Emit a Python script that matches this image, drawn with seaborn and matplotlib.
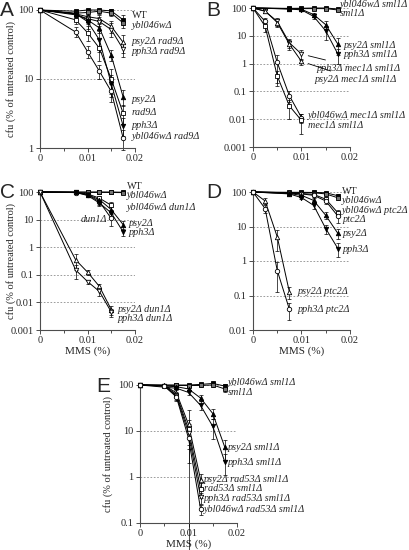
import numpy as np
import matplotlib
matplotlib.use("Agg")
import matplotlib.pyplot as plt
import seaborn as sns
import pandas as pd

# MMS doses (%)
dose6 = [0, 0.0075, 0.01, 0.0125, 0.015, 0.0175]
dose5 = [0, 0.0075, 0.01, 0.0125, 0.015]
dose_fast = [0, 0.0025, 0.005, 0.0075, 0.01]
dose_ptc = [0, 0.0025, 0.005, 0.0075]
dose_rad53 = [0, 0.005, 0.0075, 0.01, 0.0125]

# ---- panel A
a_names = ["WT", "ybl046wΔ", "psy2Δ rad9Δ", "pph3Δ rad9Δ", "psy2Δ", "rad9Δ", "pph3Δ", "ybl046wΔ rad9Δ"]
a_dose = [dose6] * 8
a_cfu = [[100, 96, 100, 100, 97, 72],
         [100, 90, 92, 96, 90, 65],
         [100, 88, 80, 75, 58, 34],
         [100, 85, 75, 68, 52, 27],
         [100, 88, 72, 55, 22, 5.5],
         [100, 72, 47, 28, 10, 3.2],
         [100, 88, 68, 37, 8.5, 2.1],
         [100, 48, 25, 13, 6.6, 1.4]]
a_err = [[0, 5, 5, 5, 8, 12],
         [0, 8, 8, 8, 8, 10],
         [0, 8, 10, 10, 12, 10],
         [0, 8, 10, 10, 12, 6],
         [0, 8, 10, 8, 4, 1.5],
         [0, 10, 12, 10, 4, 1.0],
         [0, 8, 15, 12, 3, 0.6],
         [0, 8, 5, 3, 2, 0.45]]

# ---- panel B
b_names = ["ybl046wΔ sml1Δ", "sml1Δ", "psy2Δ sml1Δ", "pph3Δ sml1Δ",
           "pph3Δ mec1Δ sml1Δ", "psy2Δ mec1Δ sml1Δ", "ybl046wΔ mec1Δ sml1Δ", "mec1Δ sml1Δ"]
b_dose = [dose6, dose6, dose6, dose6, dose_fast, dose_fast, dose_fast, dose_fast]
b_cfu = [[100, 97, 98, 100, 100, 92],
         [100, 92, 95, 95, 95, 85],
         [100, 95, 90, 58, 25, 5],
         [100, 93, 85, 50, 15, 2.2],
         [100, 76, 33, 5.6, 2.2],
         [100, 78, 30, 5.0, 1.2],
         [100, 33, 1.1, 0.07, 0.0115],
         [100, 22, 0.36, 0.03, 0.009]]
b_err = [[0, 5, 5, 5, 5, 10],
         [0, 5, 5, 5, 5, 10],
         [0, 5, 8, 10, 8, 3],
         [0, 5, 8, 10, 8, 1.2],
         [0, 10, 10, 2, 0.8],
         [0, 10, 10, 2, 0.3],
         [0, 10, 0.9, 0.03, 0.004],
         [0, 8, 0.2, 0.02, 0.006]]

# ---- panel C
c_names = ["WT", "ybl046wΔ", "ybl046wΔ dun1Δ", "dun1Δ", "psy2Δ", "pph3Δ", "psy2Δ dun1Δ", "pph3Δ dun1Δ"]
c_dose = [dose6, dose6, dose5, dose5, dose6, dose6, dose5, dose5]
c_cfu = [[100, 100, 100, 100, 100, 98],
         [100, 98, 97, 97, 96, 95],
         [100, 98, 85, 60, 33],
         [100, 95, 80, 45, 11],
         [100, 98, 80, 53, 23, 6.6],
         [100, 96, 75, 40, 17.5, 3.6],
         [100, 0.35, 0.125, 0.038, 0.0055],
         [100, 0.15, 0.057, 0.025, 0.0045]]
c_err = [[0, 5, 5, 5, 5, 8],
         [0, 5, 5, 5, 5, 8],
         [0, 5, 8, 10, 10],
         [0, 5, 8, 10, 5],
         [0, 5, 8, 10, 6, 2.5],
         [0, 5, 8, 8, 5, 1],
         [0, 0.2, 0.03, 0.01, 0.002],
         [0, 0.08, 0.01, 0.008, 0.0015]]

# ---- panel D
d_names = ["WT", "ybl046wΔ", "ybl046wΔ ptc2Δ", "ptc2Δ", "psy2Δ", "pph3Δ", "psy2Δ ptc2Δ", "pph3Δ ptc2Δ"]
d_dose = [dose6] * 6 + [dose_ptc, dose_ptc]
d_cfu = [[100, 98, 98, 97, 95, 78],
         [100, 95, 95, 95, 88, 68],
         [100, 95, 90, 85, 62, 25],
         [100, 93, 88, 80, 55, 20],
         [100, 90, 80, 57, 21, 6.3],
         [100, 88, 69, 41, 8.7, 2.3],
         [100, 55, 5, 0.127],
         [100, 33, 0.53, 0.04]]
d_err = [[0, 5, 5, 5, 5, 10],
         [0, 5, 5, 5, 5, 8],
         [0, 5, 5, 8, 10, 5],
         [0, 5, 5, 8, 10, 7],
         [0, 5, 8, 8, 5, 2],
         [0, 5, 8, 8, 2.5, 1],
         [0, 10, 3, 0.05],
         [0, 8, 0.4, 0.02]]

# ---- panel E
e_names = ["ybl046wΔ sml1Δ", "sml1Δ", "psy2Δ sml1Δ", "pph3Δ sml1Δ",
           "psy2Δ rad53Δ sml1Δ", "rad53Δ sml1Δ", "pph3Δ rad53Δ sml1Δ", "ybl046wΔ rad53Δ sml1Δ"]
e_dose = [dose6] * 4 + [dose_rad53] * 4
e_cfu = [[100, 100, 100, 103, 108, 95],
         [100, 98, 97, 98, 100, 82],
         [100, 92, 82, 52, 24, 4.4],
         [100, 85, 69, 36, 12.6, 2.1],
         [100, 98, 68, 14, 0.87],
         [100, 97, 62, 11, 0.55],
         [100, 96, 58, 9, 0.36],
         [100, 95, 55, 7, 0.2]]
e_err = [[0, 5, 5, 8, 8, 10],
         [0, 5, 5, 8, 8, 10],
         [0, 5, 8, 8, 6, 2],
         [0, 5, 8, 8, 6, 1],
         [0, 5, 10, 15, 0.3],
         [0, 5, 10, 6, 0.2],
         [0, 5, 10, 5, 0.1],
         [0, 5, 10, 5, 0.05]]

# ---- styles (marker, face colour)
a_mk = [("s", "k"), ("s", "0.45"), ("^", "w"), ("v", "w"), ("^", "k"), ("s", "w"), ("v", "k"), ("o", "w")]
b_mk = [("s", "k"), ("s", "0.45"), ("^", "k"), ("v", "k"), ("v", "w"), ("^", "w"), ("o", "w"), ("s", "w")]
c_mk = [("s", "k"), ("s", "0.45"), ("s", "w"), ("o", "w"), ("^", "k"), ("v", "k"), ("^", "w"), ("v", "w")]
d_mk = [("s", "k"), ("s", "0.45"), ("s", "w"), ("o", "w"), ("^", "k"), ("v", "k"), ("^", "w"), ("o", "w")]
e_mk = [("s", "k"), ("s", "0.45"), ("^", "k"), ("v", "k"), ("^", "w"), ("s", "w"), ("v", "w"), ("o", "w")]

# label placement (x, y in data units, ha)
a_lab = [(0.0193, y, "left") for y in [84, 60, 35, 25, 5.1, 3.3, 2.15, 1.45]]
b_lab = [(0.0179, 135, "left"), (0.0179, 64, "left"), (0.0186, 4.3, "left"), (0.0186, 2.1, "left"),
         (0.0132, 0.68, "left"), (0.0128, 0.27, "left"), (0.0114, 0.0134, "left"), (0.0114, 0.0058, "left")]
c_lab = [(0.0183, 160, "left"), (0.0183, 72, "left"), (0.0183, 28, "left"), (0.0142, 10.5, "right"),
         (0.0186, 7, "left"), (0.0186, 3.5, "left"), (0.0163, 0.0055, "left"), (0.0163, 0.0026, "left")]
d_lab = [(0.0184, y, "left") for y in [105, 57, 30, 16, 6.3, 2.2]] + \
        [(0.0091, 0.127, "left"), (0.0091, 0.039, "left")]
e_lab = [(0.0181, 112, "left"), (0.0181, 68, "left"), (0.0181, 4.4, "left"), (0.0181, 2.1, "left")] + \
        [(0.0132, y, "left") for y in [0.87, 0.55, 0.34, 0.2]]

sns.set_style("ticks")
plt.rcParams["font.family"] = ["Liberation Serif", "DejaVu Serif"]
plt.rcParams["mathtext.fontset"] = "custom"

W, H = 410, 550
fig = plt.figure(figsize=(W / 100, H / 100), dpi=100)


def box(l, r, t, b):
    return [l / W, 1 - b / H, (r - l) / W, (b - t) / H]


def panel(rect, names, doses, cfu, err, mk, lab, ylim, ylab=True, xlab=False, leaders=()):
    ax = fig.add_axes(rect)
    for i, nm in enumerate(names):
        sns.lineplot(x=doses[i], y=cfu[i], ax=ax, color="k", lw=0.7, marker=mk[i][0],
                     markersize=3.2, markerfacecolor=mk[i][1], markeredgecolor="k",
                     markeredgewidth=0.6, legend=False, sort=False, zorder=3)
        ax.errorbar(doses[i], cfu[i], yerr=err[i], fmt="none", ecolor="k",
                    elinewidth=0.5, capsize=1.6, capthick=0.5, zorder=2, clip_on=False)
        x, y, ha = lab[i]
        style = "normal" if nm == "WT" else "italic"
        if i in leaders:
            ax.annotate(nm, xy=(doses[i][-1], cfu[i][-1]), xytext=(x, y), ha=ha, va="center",
                        fontsize=7.3, fontstyle=style, annotation_clip=False,
                        arrowprops=dict(arrowstyle="-", lw=0.6, color="k", shrinkA=1.5, shrinkB=5))
        else:
            ax.text(x, y, nm, ha=ha, va="center", fontsize=7.3, fontstyle=style, clip_on=False)
    for ln in ax.lines:
        ln.set_clip_on(False)
    ax.set_yscale("log")
    ax.set_ylim(*ylim)
    ax.set_xlim(0, 0.02)
    ax.set_xticks([0, 0.01, 0.02])
    ax.set_xticklabels(["0", "0.01", "0.02"])
    ax.set_xticks([0.005, 0.015], minor=True)
    decs = [10.0 ** k for k in range(int(np.log10(ylim[0])), 3)]
    ax.set_yticks(decs)
    ax.set_yticklabels([("%g" % d) for d in decs])
    ax.yaxis.set_minor_locator(matplotlib.ticker.NullLocator())
    ax.yaxis.grid(True, which="major", ls=(0, (2, 2)), color="0.55", lw=0.6)
    ax.tick_params(axis="both", labelsize=7.5, length=3, width=0.7, pad=1.5, color="0.3")
    ax.tick_params(axis="x", which="minor", length=2, width=0.7, color="0.3")
    for s in ["top", "right"]:
        ax.spines[s].set_visible(False)
    for s in ["left", "bottom"]:
        ax.spines[s].set_color("0.3")
        ax.spines[s].set_linewidth(0.8)
    ax.set_xlabel("MMS (%)" if xlab else "", fontsize=8, labelpad=1)
    if ylab:
        ax.set_ylabel("cfu (% of untreated control)", fontsize=7.5)
    else:
        ax.set_ylabel("")
    return ax


axA = panel(box(40, 135, 10, 148), a_names, a_dose, a_cfu, a_err, a_mk, a_lab, (1, 100))
axA.yaxis.set_label_coords(-0.25, 0.5)
axB = panel(box(253, 350, 8, 147), b_names, b_dose, b_cfu, b_err, b_mk, b_lab, (0.001, 100),
            ylab=False, leaders=(4, 5))
axC = panel(box(40, 135, 192, 330), c_names, c_dose, c_cfu, c_err, c_mk, c_lab, (0.001, 100), xlab=True)
axC.yaxis.set_label_coords(-0.25, 0.5)
axD = panel(box(253, 350, 192, 330), d_names, d_dose, d_cfu, d_err, d_mk, d_lab, (0.01, 100),
            ylab=False, xlab=True)
axE = panel(box(140, 237, 385, 523), e_names, e_dose, e_cfu, e_err, e_mk, e_lab, (0.1, 100), xlab=True)
axE.yaxis.set_label_coords(-0.28, 0.5)

for letter, px, py in [("A", 0, 10), ("B", 206, 10), ("C", 0, 192), ("D", 206, 192), ("E", 96, 386)]:
    fig.text(px / W, 1 - py / H, letter, fontsize=15, family="Liberation Sans",
             ha="left", va="center")

fig.savefig("out.png", dpi=100)
